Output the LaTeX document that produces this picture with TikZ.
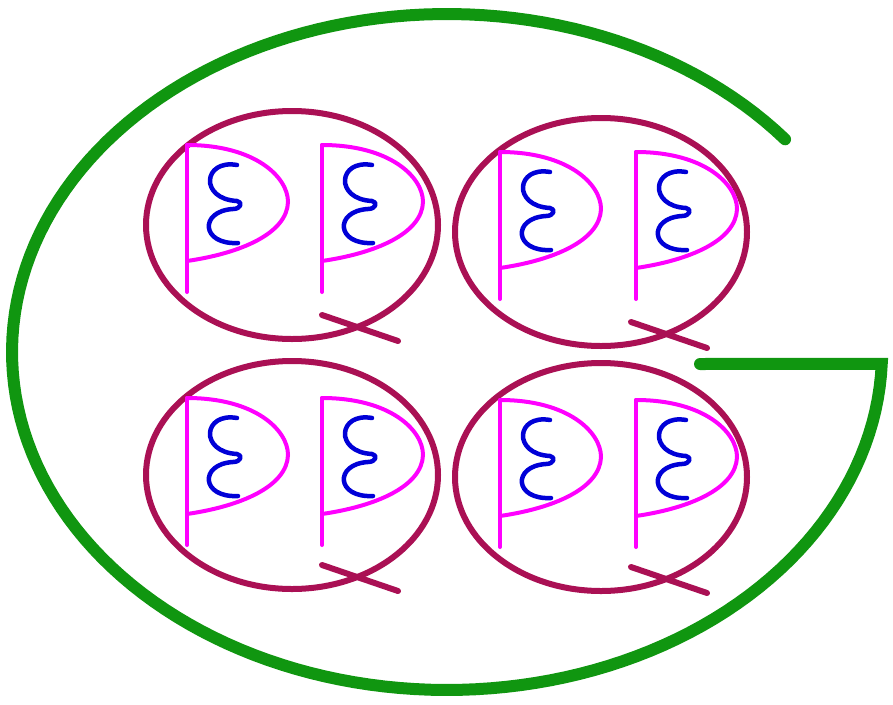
\documentclass[tikz,border=0pt]{standalone}
\definecolor{gcol}{RGB}{16,150,16}
\definecolor{qcol}{RGB}{170,16,84}
\definecolor{pcol}{RGB}{255,0,255}
\definecolor{wcol}{RGB}{0,0,215}
\begin{document}
\begin{tikzpicture}[x=1pt,y=-1pt,
  gline/.style={draw=gcol, line width=12pt, line cap=round, line join=miter},
  qline/.style={draw=qcol, line width=6pt, line cap=round},
  pline/.style={draw=pcol, line width=4pt, line cap=round},
  wline/.style={draw=wcol, line width=4.5pt, line cap=round, line join=round}]
\useasboundingbox (0,0) rectangle (893,704);
% the G
\draw[gline] plot[domain=39:358, samples=160] ({447+435*cos(\x)}, {352-338*sin(\x)}) -- (700,364);
% the Q's
\foreach \cx/\cy in {292/225, 601/232, 292/475, 601/477}{
  \draw[qline] (\cx,\cy) ellipse [x radius=146, y radius=114];
  \draw[qline] (\cx+30,\cy+90) -- (\cx+106,\cy+116);
}
% the P's with springs
\foreach \px/\py in {187/145, 322/145, 500/152, 636/152, 187/398, 322/398, 500/400, 636/400}{
  \begin{scope}[shift={(\px,\py)}]
    \draw[pline] (0,0) -- (0,147);
    \draw[pline] (0,0) .. controls (68,0) and (101,32) .. (101,57)
      .. controls (100,88) and (55,108) .. (0,116);
    \draw[wline] (50,20) .. controls (16,14) and (12,54) .. (50,56)
      .. controls (56,57) and (54,64) .. (46,64)
      .. controls (12,66) and (14,100) .. (51,98);
  \end{scope}
}
\end{tikzpicture}
\end{document}
